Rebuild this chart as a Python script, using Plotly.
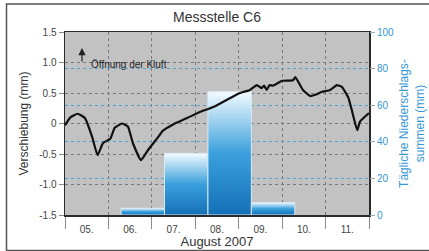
import plotly.graph_objects as go

# ---- data ----
time = [
    "2007-08-05 00:00", "2007-08-05 03:00", "2007-08-05 07:00", "2007-08-05 11:00",
    "2007-08-05 15:00", "2007-08-05 18:00", "2007-08-05 21:00", "2007-08-06 01:00",
    "2007-08-06 03:30", "2007-08-06 07:30", "2007-08-06 10:45", "2007-08-06 13:30",
    "2007-08-06 18:00", "2007-08-06 22:00", "2007-08-07 03:00", "2007-08-07 06:00",
    "2007-08-07 11:30", "2007-08-07 19:30", "2007-08-08 02:30", "2007-08-08 10:00",
    "2007-08-08 17:30", "2007-08-09 00:45", "2007-08-09 06:15", "2007-08-09 10:00",
    "2007-08-09 12:30", "2007-08-09 14:00", "2007-08-09 15:30", "2007-08-09 17:00",
    "2007-08-09 19:00", "2007-08-10 00:00", "2007-08-10 06:00", "2007-08-10 07:15",
    "2007-08-10 09:00", "2007-08-10 11:30", "2007-08-10 15:30", "2007-08-10 18:15",
    "2007-08-10 22:00", "2007-08-11 02:30", "2007-08-11 06:15", "2007-08-11 09:00",
    "2007-08-11 12:30", "2007-08-11 14:30", "2007-08-11 17:30", "2007-08-11 19:00",
    "2007-08-11 23:59",
]
displacement = [
    -0.03, 0.10, 0.16, 0.09,
    -0.22, -0.52, -0.32, -0.25,
    -0.07, 0.00, -0.05, -0.32,
    -0.60, -0.43, -0.24, -0.12,
    -0.02, 0.09, 0.19, 0.27,
    0.39, 0.50, 0.55, 0.63,
    0.58, 0.62, 0.55, 0.63,
    0.62, 0.70, 0.71, 0.76,
    0.68, 0.55, 0.45, 0.47,
    0.52, 0.55, 0.63, 0.60,
    0.43, 0.22, -0.11, 0.03,
    0.17,
]

bar_start = ["2007-08-06 07:00", "2007-08-07 07:00", "2007-08-08 07:00", "2007-08-09 07:00"]
bar_end = ["2007-08-07 07:00", "2007-08-08 07:00", "2007-08-09 07:00", "2007-08-10 07:00"]
precip = [3.7, 33.7, 67.4, 6.8]

left_ticks = [-1.5, -1.0, -0.5, 0, 0.5, 1.0, 1.5]
left_ticktext = ["-1.5", "-1.0", "-0.5", "0", "0.5", "1.0", "1.5"]
right_ticks = [0, 20, 40, 60, 80, 100]

FONT = "Liberation Sans, Arial, sans-serif"
BLUE = "#3597d3"

fig = go.Figure()

for s, e, h in zip(bar_start, bar_end, precip):
    fig.add_trace(go.Scatter(
        x=[s, s, e, e, s], y=[0, h, h, 0, 0],
        mode="lines", fill="toself",
        fillgradient=dict(type="vertical",
                          colorscale=[[0, "#1470b8"], [0.5, "#3aa0dc"], [1, "#f4fbff"]],
                          start=0.001, stop=h),
        line=dict(color="#d8e8f2", width=1),
        yaxis="y", hoverinfo="skip", showlegend=False,
    ))

fig.add_trace(go.Scatter(
    x=time, y=displacement, mode="lines",
    line=dict(color="#111111", width=2.2, shape="spline", smoothing=0.4),
    yaxis="y2", showlegend=False,
))

fig.update_layout(
    width=429, height=251,
    margin=dict(l=65, r=60, t=32, b=36),
    paper_bgcolor="white", plot_bgcolor="#c2c2c2",
    font=dict(family=FONT, color="#333333"),
    title=dict(text="Messstelle C6", x=0.5, xref="paper", y=1 - 17 / 251,
               yanchor="middle", font=dict(size=14, color="#333333")),
    xaxis=dict(
        type="date", range=["2007-08-05 00:00", "2007-08-12 00:00"],
        dtick=86400000, tick0="2007-08-05", tickformat="%d.", ticklabelmode="period",
        ticks="outside", ticklen=12, tickcolor="#8a8a8a", tickwidth=1,
        ticklabelstandoff=-8,
        tickfont=dict(size=10, color="#444444"),
        showgrid=True, gridcolor="#7a7a7a", griddash="dot", gridwidth=1,
        showline=True, linecolor="#2a2a2a", linewidth=1.5, mirror=True,
        title=dict(text="August 2007", font=dict(size=13, color="#333333"), standoff=2),
        zeroline=False, automargin=False,
    ),
    yaxis=dict(
        side="right", range=[0, 100], tickvals=right_ticks,
        ticks="outside", ticklen=5, tickcolor="#9ab", tickfont=dict(size=10, color=BLUE),
        showgrid=True, gridcolor="#4da2d6", griddash="dot", gridwidth=1,
        zeroline=False, showline=False, automargin=False,
        title=dict(text="Tägliche Niederschlags-<br>summen (mm)",
                   font=dict(size=12, color=BLUE), standoff=6),
    ),
    yaxis2=dict(
        side="left", overlaying="y", range=[-1.5, 1.5],
        tickvals=left_ticks, ticktext=left_ticktext,
        ticks="outside", ticklen=5, tickcolor="#8a8a8a",
        tickfont=dict(size=10, color="#444444"),
        showgrid=True, gridcolor="#7a7a7a", griddash="dot", gridwidth=1,
        zeroline=False, showline=True, linecolor="#2a2a2a", linewidth=1.5, mirror=True,
        automargin=False,
        title=dict(text="Verschiebung (mm)", font=dict(size=12, color="#333333"), standoff=8),
    ),
    shapes=[dict(type="rect", xref="paper", yref="paper",
                 x0=(6.5 - 65) / 304, x1=(432 - 65) / 304,
                 y0=(215 - 250.5) / 183, y1=(215 - 4) / 183,
                 line=dict(color="#555555", width=1.5), fillcolor="rgba(0,0,0,0)",
                 layer="below")],
    annotations=[
        dict(text="", xref="paper", yref="paper", x=(82 - 65) / 304, y=(215 - 48) / 183,
             showarrow=True, ax=0, ay=15, arrowhead=2, arrowsize=1.2, arrowwidth=1.2,
             arrowcolor="#222222"),
        dict(text="Öffnung der Kluft", xref="paper", yref="paper", x=(89 - 65) / 304,
             y=(215 - 64) / 183, showarrow=False, font=dict(size=10, color="#222222"),
             xanchor="left", yanchor="middle"),
    ],
)

fig.write_html(
    "out.html",
    config={"displayModeBar": False, "staticPlot": True},
    post_script="document.body.style.margin='0';document.body.style.padding='0';"
                "document.body.style.overflow='hidden';",
)
